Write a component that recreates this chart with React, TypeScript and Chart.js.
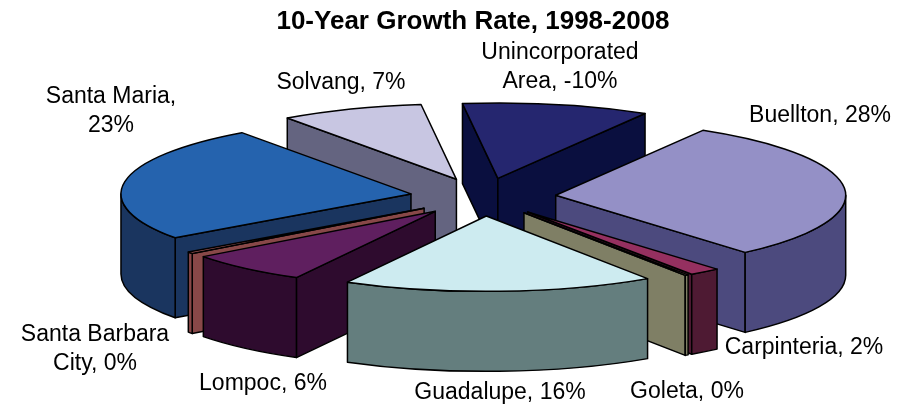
import React, { useEffect, useRef } from "react";
import { Chart, registerables } from "chart.js";

Chart.register(...registerables);

const titleText = "10-Year Growth Rate, 1998-2008";
const categories = ["Buellton", "Carpinteria", "Goleta", "Guadalupe", "Lompoc", "Santa Barbara City", "Santa Maria", "Solvang", "Unincorporated Area"];
const growthRates = [28.4, 1.65, 0.18, 16.3, 6.4, 0.34, 23.49, 7.49, -9.8];

const topColors = ["#9490C6", "#953060", "#C8C8A0", "#CDEBF0", "#5F1F5F", "#B06060", "#2563AE", "#C8C6E2", "#25266F"];
const wallColors = ["#4C4A7E", "#4E1A33", "#7F7F65", "#647E7E", "#2E0B2E", "#884848", "#1A355F", "#646480", "#0A0F3F"];

// label layout: text lines are split at the given word, centre x and first baseline y
const labelLayout = [
  { split: 0, x: 820, y: 122 },
  { split: 0, x: 804, y: 354 },
  { split: 0, x: 687, y: 398 },
  { split: 0, x: 500, y: 399 },
  { split: 0, x: 263, y: 390 },
  { split: 2, x: 95, y: 341 },
  { split: 2, x: 111, y: 103 },
  { split: 0, x: 341, y: 89 },
  { split: 1, x: 560, y: 59 },
];

const centerX = 483;
const centerY = 197;
const squash = 0.26;
const depth = 80;
const labelFont = "23px 'Liberation Sans', Arial, sans-serif";
const lineGap = 29;

function labelLines(i: number): string[] {
  const text = `${categories[i]}, ${Math.round(growthRates[i])}%`;
  const n = labelLayout[i].split;
  if (!n) return [text];
  const words = text.split(" ");
  return [words.slice(0, n).join(" "), words.slice(n).join(" ")];
}

const pie3d = {
  id: "pie3d",
  beforeDatasetsDraw(chart: any) {
    const ctx = chart.ctx;
    const meta = chart.getDatasetMeta(0);
    const slices = meta.data.map((arc: any, i: number) => {
      const mid = (arc.startAngle + arc.endAngle) / 2;
      const off = arc.options.offset || 0;
      return {
        i,
        sa: arc.startAngle,
        ea: arc.endAngle,
        r: arc.outerRadius,
        ax: centerX + Math.cos(mid) * off,
        ay: centerY + Math.sin(mid) * off * squash,
      };
    });
    slices.sort((a: any, b: any) => a.ay - b.ay);
    ctx.save();
    ctx.lineWidth = 1.5;
    ctx.strokeStyle = "#000";
    ctx.lineJoin = "round";
    for (const s of slices) {
      const ry = s.r * squash;
      const px = (t: number) => s.ax + Math.cos(t) * s.r;
      const py = (t: number) => s.ay + Math.sin(t) * ry;
      const paint = (fill: string) => {
        ctx.fillStyle = fill;
        ctx.fill();
        ctx.stroke();
      };
      // radial walls facing the viewer
      for (const [t, front] of [
        [s.sa, Math.cos(s.sa) < 0],
        [s.ea, Math.cos(s.ea) > 0],
      ] as [number, boolean][]) {
        if (!front) continue;
        ctx.beginPath();
        ctx.moveTo(s.ax, s.ay);
        ctx.lineTo(px(t), py(t));
        ctx.lineTo(px(t), py(t) + depth);
        ctx.lineTo(s.ax, s.ay + depth);
        ctx.closePath();
        paint(wallColors[s.i]);
      }
      // rim wall: the part of the sector on the front half of the ellipse
      for (let n = -1; n <= 1; n++) {
        const lo = Math.max(s.sa, n * 2 * Math.PI);
        const hi = Math.min(s.ea, n * 2 * Math.PI + Math.PI);
        if (hi <= lo) continue;
        ctx.beginPath();
        ctx.ellipse(s.ax, s.ay, s.r, ry, 0, lo, hi);
        ctx.ellipse(s.ax, s.ay + depth, s.r, ry, 0, hi, lo, true);
        ctx.closePath();
        paint(wallColors[s.i]);
      }
      // top face
      ctx.beginPath();
      ctx.moveTo(s.ax, s.ay);
      ctx.ellipse(s.ax, s.ay, s.r, ry, 0, s.sa, s.ea);
      ctx.closePath();
      paint(topColors[s.i]);
    }
    ctx.restore();
    return false;
  },
  afterDraw(chart: any) {
    const ctx = chart.ctx;
    ctx.save();
    ctx.font = labelFont;
    ctx.fillStyle = "#000";
    ctx.textAlign = "center";
    ctx.textBaseline = "alphabetic";
    categories.forEach((_, i) => {
      labelLines(i).forEach((line, j) => {
        ctx.fillText(line, labelLayout[i].x, labelLayout[i].y + j * lineGap);
      });
    });
    ctx.restore();
  },
};

export default function App() {
  const ref = useRef<HTMLCanvasElement>(null);
  useEffect(() => {
    const chart = new Chart(ref.current!, {
      type: "pie",
      data: {
        labels: categories,
        datasets: [
          {
            data: growthRates.map((v) => Math.abs(v)),
            backgroundColor: topColors,
            borderColor: "#000",
            offset: 73,
          },
        ],
      },
      options: {
        responsive: false,
        animation: false,
        rotation: 30.5,
        radius: 290,
        layout: { padding: { top: 6, left: 31 } },
        plugins: {
          legend: { display: false },
          tooltip: { enabled: false },
          title: {
            display: true,
            text: titleText,
            color: "#000",
            font: { family: "'Liberation Sans', Arial, sans-serif", size: 26, weight: "bold" },
            padding: { top: 0, bottom: 0 },
          },
        },
      },
      plugins: [pie3d],
    } as any);
    return () => chart.destroy();
  }, []);
  return (
    <canvas
      ref={ref}
      width={915}
      height={405}
      style={{ position: "absolute", left: 0, top: 0, display: "block" }}
    />
  );
}
